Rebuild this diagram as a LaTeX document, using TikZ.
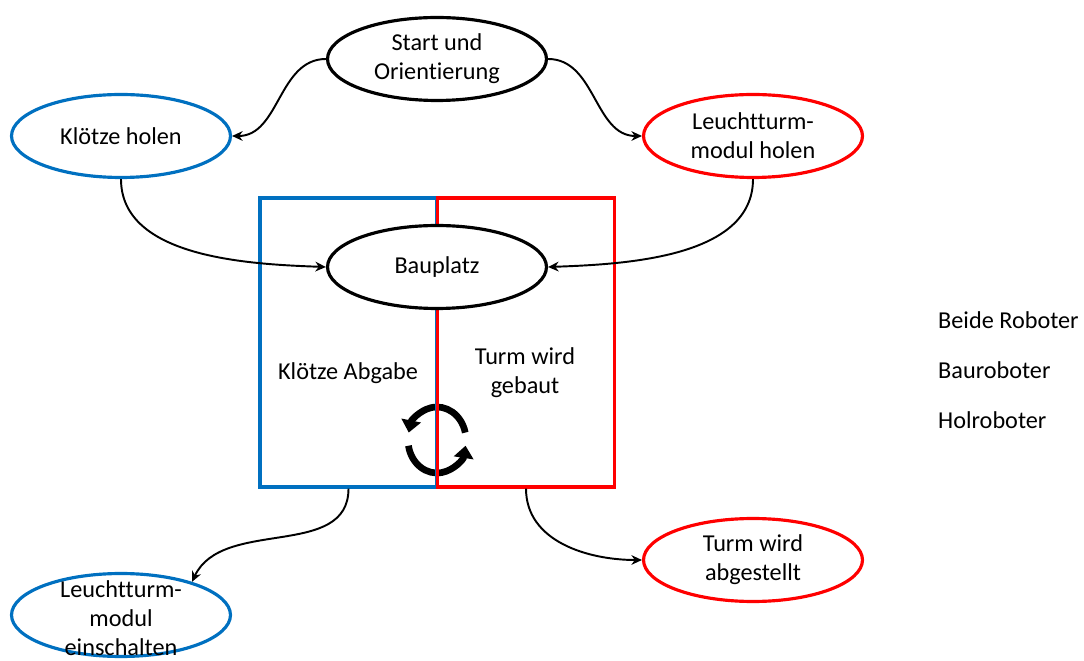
\documentclass[tikz,border=0pt]{standalone}
\usepackage{fontspec}
\setmainfont{Carlito}[Ligatures={NoCommon}]
\usetikzlibrary{shapes.geometric,arrows.meta}
\definecolor{myblue}{RGB}{0,112,192}
\definecolor{myred}{RGB}{255,0,0}
\begin{document}
\begin{tikzpicture}[x=0.02cm,y=-0.02cm,
  st/.style={ellipse,draw,line width=1.8pt,fill=white,minimum width=4.38cm,minimum height=1.66cm,inner sep=0pt},
  txt/.style={align=center,font=\fontsize{13.8}{16.5}\selectfont},
  conn/.style={line width=1.1pt,-{Stealth[length=6pt,width=5.5pt]}},
  boxx/.style={draw,line width=1.8pt,minimum width=3.54cm,minimum height=5.78cm,inner sep=0pt},
  cyc/.style={line width=3.8pt,-{Triangle[length=7pt,width=11pt]}}
]
\useasboundingbox (0,0) rectangle (1084,661);
% cycle arrows (under the boxes' lines)
\coordinate (cc) at (437,440);
\draw[cyc] ([shift={(13:0.58cm and 0.66cm)}]cc) arc[start angle=13,end angle=167,x radius=0.58cm,y radius=0.66cm];
\draw[cyc] ([shift={(190:0.58cm and 0.66cm)}]cc) arc[start angle=190,end angle=350,x radius=0.58cm,y radius=0.66cm];
% boxes
\node[boxx,draw=myblue] (bl) at (348.5,342.5) {};
\node[boxx,draw=myred] (rd) at (526,342.5) {};
% ellipses
\node[st] (start) at (437,59) {};
\node[txt] at (start) {Start und\\Orientierung};
\node[st,draw=myblue] (kh) at (121,136) {};
\node[txt] at (kh) {Klötze holen};
\node[st,draw=myred] (lh) at (753,136) {};
\node[txt] at (lh) {Leuchtturm-\\modul holen};
\node[st] (bp) at (437,267) {};
\node[txt] at (bp) {Bauplatz};
\node[st,draw=myblue] (le) at (121,615) {};
\node[txt] at (121,618) {Leuchtturm-\\modul\\einschalten};
\node[st,draw=myred] (ta) at (753,560) {};
\node[txt] at (ta) {Turm wird\\abgestellt};
% box texts
\node[txt] (ka) at (348,373) {Klötze Abgabe};
\node[txt] (tg) at (525,373) {Turm wird\\gebaut};
% legend
\node[txt,anchor=west] (l1) at (932,320) {Beide Roboter};
\node[txt,anchor=west] (l2) at (932,370) {Bauroboter};
\node[txt,anchor=west] (l3) at (932,420) {Holroboter};
% connectors
\draw[conn] (start.west) to[out=180,in=0] (kh.east);
\draw[conn] (start.east) to[out=0,in=180] (lh.west);
\draw[conn] (kh.south) to[out=-90,in=178,looseness=0.9] (bp.west);
\draw[conn] (lh.south) to[out=-90,in=2,looseness=0.9] (bp.east);
\draw[conn] (bl.south) to[out=-90,in=65] (le.25);
\draw[conn] (rd.south) to[out=-90,in=180] (ta.west);
\end{tikzpicture}
\end{document}
